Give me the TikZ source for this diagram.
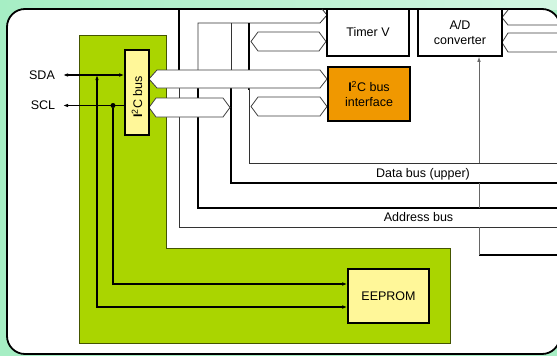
\documentclass[tikz,border=0pt]{standalone}
\usepackage{fontspec}
\usepackage{graphicx}
\setmainfont{Liberation Sans}
\usetikzlibrary{arrows.meta}
\definecolor{mint}{RGB}{166,238,196}
\definecolor{lime}{RGB}{170,213,0}
\definecolor{paleyel}{RGB}{255,247,153}
\definecolor{orng}{RGB}{240,152,0}
\begin{document}
\begin{tikzpicture}[x=1pt,y=-1pt,
  lbl/.style={font=\fontsize{12.5}{15}\selectfont, inner sep=0pt, align=center},
  box/.style={draw=black, line width=1.6pt, inner sep=0pt, align=center, font=\fontsize{12.5}{15}\selectfont},
  busthin/.style={draw=black!80, line width=0.8pt},
  busthick/.style={draw=black, line width=1.5pt},
  hollow/.style={draw=black!75, fill=white, line width=0.8pt, line join=miter},
  sig/.style={draw=black, line width=1.5pt},
  wire/.style={draw=black, line width=1.2pt},
  grayline/.style={draw=black!60, line width=0.8pt},
  tp/.tip={Latex[length=5pt,width=3.6pt]}
]
\useasboundingbox (0,0) rectangle (557,356);
% background
\fill[mint] (0,0) rectangle (557,356);
\shade[left color=mint, middle color=white, right color=mint!50] (0,0) rectangle (557,9);
% panel
\draw[line width=1.8pt, fill=white, rounded corners=18pt] (7,9) rectangle (560,354);
% green region
\draw[fill=lime, draw=black!60!lime, line width=0.7pt]
  (79,35) -- (166,35) -- (166,248) -- (450,248) -- (450,343) -- (79,343) -- cycle;
% bus lines
\draw[busthin] (179,9) -- (179,227) -- (560,227);
\draw[busthick] (179,9) -- (179,70);
\draw[busthin] (198,70) -- (198,23) -- (320,23) -- (327,15) -- (322,9);
\draw[busthick] (198,88) -- (198,208) -- (560,208);
\draw[busthin] (231,23) -- (231,90);
\draw[busthick] (231,88) -- (231,183) -- (560,183);
\draw[busthick] (249,23) -- (249,90);
\draw[busthin] (249,88) -- (249,163) -- (560,163);
\draw[busthick] (479,255) -- (560,255);
% hollow bus arrows
\draw[hollow] (149,79) -- (157,70) -- (320,70) -- (327,79) -- (320,88) -- (157,88) -- cycle;
\draw[hollow] (149,107.5) -- (156,98) -- (223,98) -- (230,107.5) -- (223,117) -- (156,117) -- cycle;
\draw[hollow] (251,41.5) -- (258,32) -- (319,32) -- (326,41.5) -- (319,51) -- (258,51) -- cycle;
\draw[hollow] (251,106.5) -- (258,97) -- (320,97) -- (327,106.5) -- (320,116) -- (258,116) -- cycle;
\draw[hollow] (560,52) -- (508,52) -- (502,42.5) -- (508,33) -- (560,33);
\draw[hollow] (560,25) -- (508,25) -- (502,17.5) -- (508,10);
% boxes
\node[box, fill=white, minimum width=82pt, minimum height=47pt] (timer) at (368,32.5) {\raisebox{2pt}{Timer V}};
\node[box, fill=white, minimum width=84pt, minimum height=47pt] (ad) at (460,32.5) {A/D\\converter};
\node[box, fill=orng, minimum width=82pt, minimum height=54pt] (iface) at (369,94) {\raisebox{-5pt}{\shortstack{\textbf{I}\textsuperscript{2}C bus\\[2.5pt]interface}}};
\node[box, fill=paleyel, minimum width=24pt, minimum height=85pt] (i2c) at (137,92.5) {\rotatebox{90}{\textbf{I}\textsuperscript{2}C bus\hspace{9pt}}};
\node[box, fill=paleyel, minimum width=81pt, minimum height=54pt] (eeprom) at (388.5,296) {EEPROM};
% labels
\node[lbl] (sda) at (42,75) {SDA};
\node[lbl] (scl) at (43,105.5) {SCL};
\node[lbl] (dbu) at (423,174) {Data bus (upper)};
\node[lbl] (ab) at (418.5,217.5) {Address bus};
% A/D feed line
\coordinate (adfeed) at (479,163);
\draw[grayline] (479,255) -- (479,227);
\draw[grayline] (479,208) -- (479,183);
\draw[grayline, -tp] (adfeed) -- (ad.south -| adfeed);
% signals
\coordinate (sdaL) at (63,75);
\coordinate (sclL) at (63,105.5);
\coordinate (sdaJ) at (97,75);
\node[circle, fill=black, inner sep=0pt, minimum size=5pt] (dot) at (113,105.5) {};
\draw[sig, tp-tp] (sdaL) -- (i2c.west |- sdaL);
\draw[sig, tp-] (sclL) -- (i2c.west |- sclL);
\draw[wire, tp-tp] (sdaJ) |- ([yshift=-11pt]eeprom.west);
\draw[wire, -tp] (dot) |- ([yshift=12pt]eeprom.west);
\end{tikzpicture}
\end{document}
